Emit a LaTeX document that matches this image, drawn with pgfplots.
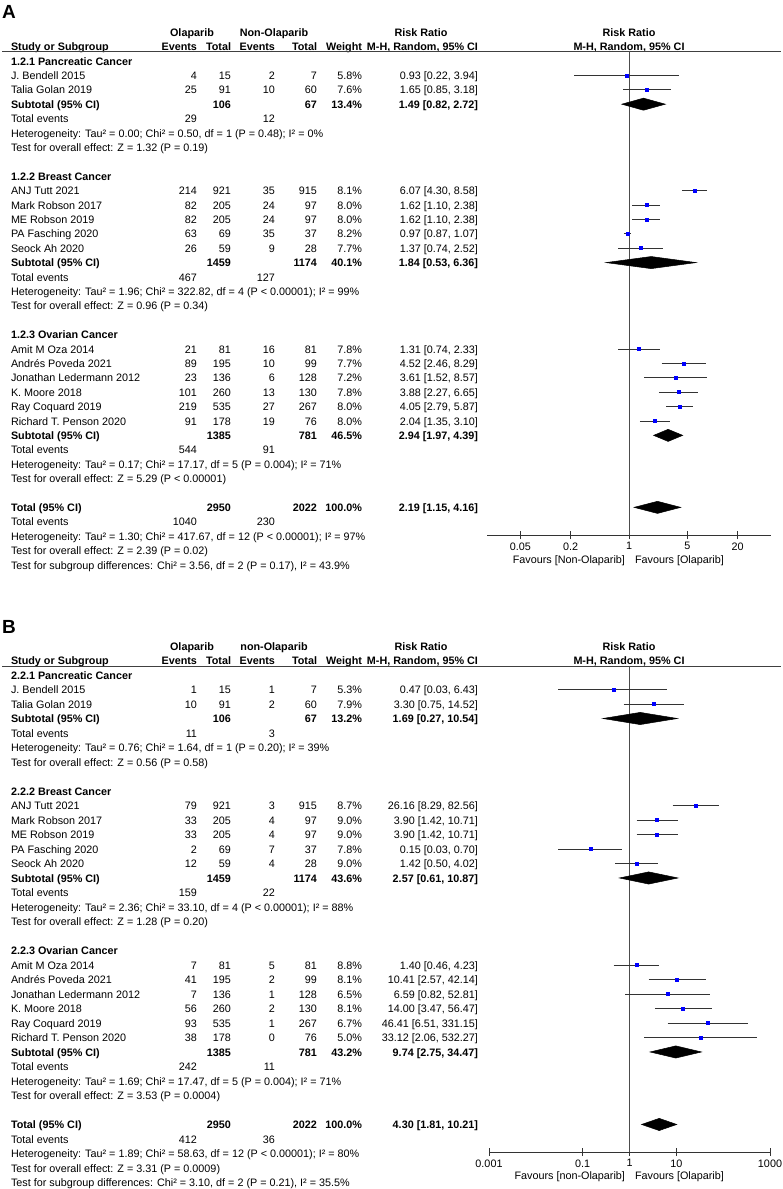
\documentclass[border=0pt]{standalone}
\usepackage{fontspec}
\setmainfont{Liberation Sans}
\usepackage{pgfplots}
\pgfplotsset{compat=1.18}
\newcommand\tf{\fontsize{10.8}{13}\selectfont}
\def\yz{61}\def\ys{14.4}
\newcommand\bl[1]{{-(\yz+\ys*(#1)+4)}}
\tikzset{t/.style={inner sep=0pt,outer sep=0pt},
 cil/.style={black!80, line width=0.8pt},
 vl/.style={black!70, line width=0.9pt},
 sq/.style={only marks, mark=square*, mark size=1.5pt, mark options={draw=blue, fill=blue}},
 dm/.style={fill=black, draw=black, line width=0.5pt}}
\newcommand\study[9][]{%
 \node[t,anchor=base west,#1] at (11,\bl{#2}) {#3};
 \node[t,anchor=base east,#1] at (197,\bl{#2}) {#4};
 \node[t,anchor=base east,#1] at (231,\bl{#2}) {#5};
 \node[t,anchor=base east,#1] at (275,\bl{#2}) {#6};
 \node[t,anchor=base east,#1] at (317,\bl{#2}) {#7};
 \node[t,anchor=base east,#1] at (362,\bl{#2}) {#8};
 \node[t,anchor=base east,#1] at (478,\bl{#2}) {#9};}
\newcommand\txt[3][]{\node[t,anchor=base west,#1] at (11,\bl{#2}) {#3};}
\newcommand\tev[3]{\node[t,anchor=base west] at (11,\bl{#1}) {Total events};
 \node[t,anchor=base east] at (197,\bl{#1}) {#2};
 \node[t,anchor=base east] at (275,\bl{#1}) {#3};}
\newcommand\header[1]{%
 \begin{scope}[font=\tf\bfseries]
 \node[t,anchor=base] at (192,\bl{-2}) {Olaparib};
 \node[t,anchor=base] at (274,\bl{-2}) {#1};
 \node[t,anchor=base] at (421,\bl{-2}) {Risk Ratio};
 \node[t,anchor=base] at (629,\bl{-2}) {Risk Ratio};
 \node[t,anchor=base west] at (11,\bl{-1}) {Study or Subgroup};
 \node[t,anchor=base east] at (197,\bl{-1}) {Events};
 \node[t,anchor=base east] at (231,\bl{-1}) {Total};
 \node[t,anchor=base east] at (275,\bl{-1}) {Events};
 \node[t,anchor=base east] at (317,\bl{-1}) {Total};
 \node[t,anchor=base east] at (362,\bl{-1}) {Weight};
 \node[t,anchor=base east] at (478,\bl{-1}) {M-H, Random, 95\% CI};
 \node[t,anchor=base] at (629,\bl{-1}) {M-H, Random, 95\% CI};
 \end{scope}}
\newcommand\ci[3]{\addplot[cil] coordinates {(#2,-#1) (#3,-#1)};}
\begin{document}
\begin{tikzpicture}[x=1pt,y=1pt,font=\tf]
\useasboundingbox (0,0) rectangle (782,-1189);
% ================= Panel A =================
\def\yz{61}\def\ys{14.4}
\node[t,anchor=base west,font=\fontsize{19}{20}\selectfont\bfseries] at (2,-18) {A};
\header{Non-Olaparib}
\draw[line width=1pt, black!75] (2,-51) -- (781,-51);
\txt[font=\tf\bfseries]{0}{1.2.1 Pancreatic Cancer}
\study{1}{J. Bendell 2015}{4}{15}{2}{7}{5.8\%}{0.93 [0.22, 3.94]}
\study{2}{Talia Golan 2019}{25}{91}{10}{60}{7.6\%}{1.65 [0.85, 3.18]}
\study[font=\tf\bfseries]{3}{Subtotal (95\% CI)}{}{106}{}{67}{13.4\%}{1.49 [0.82, 2.72]}
\tev{4}{29}{12}
\txt{5}{Heterogeneity: Tau² = 0.00; Chi² = 0.50, df = 1 (P = 0.48); I² = 0\%}
\txt{6}{Test for overall effect: Z = 1.32 (P = 0.19)}
\txt[font=\tf\bfseries]{8}{1.2.2 Breast Cancer}
\study{9}{ANJ Tutt 2021}{214}{921}{35}{915}{8.1\%}{6.07 [4.30, 8.58]}
\study{10}{Mark Robson 2017}{82}{205}{24}{97}{8.0\%}{1.62 [1.10, 2.38]}
\study{11}{ME Robson 2019}{82}{205}{24}{97}{8.0\%}{1.62 [1.10, 2.38]}
\study{12}{PA Fasching 2020}{63}{69}{35}{37}{8.2\%}{0.97 [0.87, 1.07]}
\study{13}{Seock Ah 2020}{26}{59}{9}{28}{7.7\%}{1.37 [0.74, 2.52]}
\study[font=\tf\bfseries]{14}{Subtotal (95\% CI)}{}{1459}{}{1174}{40.1\%}{1.84 [0.53, 6.36]}
\tev{15}{467}{127}
\txt{16}{Heterogeneity: Tau² = 1.96; Chi² = 322.82, df = 4 (P < 0.00001); I² = 99\%}
\txt{17}{Test for overall effect: Z = 0.96 (P = 0.34)}
\txt[font=\tf\bfseries]{19}{1.2.3 Ovarian Cancer}
\study{20}{Amit M Oza 2014}{21}{81}{16}{81}{7.8\%}{1.31 [0.74, 2.33]}
\study{21}{Andrés Poveda 2021}{89}{195}{10}{99}{7.7\%}{4.52 [2.46, 8.29]}
\study{22}{Jonathan Ledermann 2012}{23}{136}{6}{128}{7.2\%}{3.61 [1.52, 8.57]}
\study{23}{K. Moore 2018}{101}{260}{13}{130}{7.8\%}{3.88 [2.27, 6.65]}
\study{24}{Ray Coquard 2019}{219}{535}{27}{267}{8.0\%}{4.05 [2.79, 5.87]}
\study{25}{Richard T. Penson 2020}{91}{178}{19}{76}{8.0\%}{2.04 [1.35, 3.10]}
\study[font=\tf\bfseries]{26}{Subtotal (95\% CI)}{}{1385}{}{781}{46.5\%}{2.94 [1.97, 4.39]}
\tev{27}{544}{91}
\txt{28}{Heterogeneity: Tau² = 0.17; Chi² = 17.17, df = 5 (P = 0.004); I² = 71\%}
\txt{29}{Test for overall effect: Z = 5.29 (P < 0.00001)}
\study[font=\tf\bfseries]{31}{Total (95\% CI)}{}{2950}{}{2022}{100.0\%}{2.19 [1.15, 4.16]}
\tev{32}{1040}{230}
\txt{33}{Heterogeneity: Tau² = 1.30; Chi² = 417.67, df = 12 (P < 0.00001); I² = 97\%}
\txt{34}{Test for overall effect: Z = 2.39 (P = 0.02)}
\txt{35}{Test for subgroup differences: Chi² = 3.56, df = 2 (P = 0.17), I² = 43.9\%}
\node[t,anchor=base east] at (625,-563) {Favours [Non-Olaparib]};
\node[t,anchor=base west] at (635,-563) {Favours [Olaparib]};
\begin{axis}[at={(487pt,-51pt)}, anchor=north west, width=284pt, height=484pt,
  scale only axis, xmode=log, clip=false,
  axis x line*=bottom, axis y line=none, ytick=\empty,
  x axis line style={-, line width=0.9pt, color=black!80},
  xminorticks=false, tick align=center, major tick length=8pt,
  major tick style={black!80, line width=0.9pt},
  ticklabel style={font=\tf},
  xmin=0.02, xmax=50, ymin=-32.92, ymax=0.694,
  xtick={0.05,0.2,1,5,20}, xticklabels={0.05,0.2,1,5,20}]
\addplot[vl] coordinates {(1,0.694) (1,-32.92)};
\ci{1}{0.22}{3.94} \ci{2}{0.85}{3.18}
\ci{9}{4.30}{8.58} \ci{10}{1.10}{2.38} \ci{11}{1.10}{2.38} \ci{12}{0.87}{1.07} \ci{13}{0.74}{2.52}
\ci{20}{0.74}{2.33} \ci{21}{2.46}{8.29} \ci{22}{1.52}{8.57} \ci{23}{2.27}{6.65} \ci{24}{2.79}{5.87} \ci{25}{1.35}{3.10}
\addplot[sq] coordinates {(0.93,-1) (1.65,-2) (6.07,-9) (1.62,-10) (1.62,-11) (0.97,-12) (1.37,-13)
  (1.31,-20) (4.52,-21) (3.61,-22) (3.88,-23) (4.05,-24) (2.04,-25)};
\addplot[dm] coordinates {(0.82,-3) (1.49,-2.58) (2.72,-3) (1.49,-3.42)} --cycle;
\addplot[dm] coordinates {(0.53,-14) (1.84,-13.58) (6.36,-14) (1.84,-14.42)} --cycle;
\addplot[dm] coordinates {(1.97,-26) (2.94,-25.58) (4.39,-26) (2.94,-26.42)} --cycle;
\addplot[dm] coordinates {(1.15,-31) (2.19,-30.58) (4.16,-31) (2.19,-31.42)} --cycle;
\end{axis}
% ================= Panel B =================
\def\yz{675}\def\ys{14.5}
\node[t,anchor=base west,font=\fontsize{19}{20}\selectfont\bfseries] at (2,-633) {B};
\header{non-Olaparib}
\draw[line width=1pt, black!75] (2,-666) -- (781,-666);
\txt[font=\tf\bfseries]{0}{2.2.1 Pancreatic Cancer}
\study{1}{J. Bendell 2015}{1}{15}{1}{7}{5.3\%}{0.47 [0.03, 6.43]}
\study{2}{Talia Golan 2019}{10}{91}{2}{60}{7.9\%}{3.30 [0.75, 14.52]}
\study[font=\tf\bfseries]{3}{Subtotal (95\% CI)}{}{106}{}{67}{13.2\%}{1.69 [0.27, 10.54]}
\tev{4}{11}{3}
\txt{5}{Heterogeneity: Tau² = 0.76; Chi² = 1.64, df = 1 (P = 0.20); I² = 39\%}
\txt{6}{Test for overall effect: Z = 0.56 (P = 0.58)}
\txt[font=\tf\bfseries]{8}{2.2.2 Breast Cancer}
\study{9}{ANJ Tutt 2021}{79}{921}{3}{915}{8.7\%}{26.16 [8.29, 82.56]}
\study{10}{Mark Robson 2017}{33}{205}{4}{97}{9.0\%}{3.90 [1.42, 10.71]}
\study{11}{ME Robson 2019}{33}{205}{4}{97}{9.0\%}{3.90 [1.42, 10.71]}
\study{12}{PA Fasching 2020}{2}{69}{7}{37}{7.8\%}{0.15 [0.03, 0.70]}
\study{13}{Seock Ah 2020}{12}{59}{4}{28}{9.0\%}{1.42 [0.50, 4.02]}
\study[font=\tf\bfseries]{14}{Subtotal (95\% CI)}{}{1459}{}{1174}{43.6\%}{2.57 [0.61, 10.87]}
\tev{15}{159}{22}
\txt{16}{Heterogeneity: Tau² = 2.36; Chi² = 33.10, df = 4 (P < 0.00001); I² = 88\%}
\txt{17}{Test for overall effect: Z = 1.28 (P = 0.20)}
\txt[font=\tf\bfseries]{19}{2.2.3 Ovarian Cancer}
\study{20}{Amit M Oza 2014}{7}{81}{5}{81}{8.8\%}{1.40 [0.46, 4.23]}
\study{21}{Andrés Poveda 2021}{41}{195}{2}{99}{8.1\%}{10.41 [2.57, 42.14]}
\study{22}{Jonathan Ledermann 2012}{7}{136}{1}{128}{6.5\%}{6.59 [0.82, 52.81]}
\study{23}{K. Moore 2018}{56}{260}{2}{130}{8.1\%}{14.00 [3.47, 56.47]}
\study{24}{Ray Coquard 2019}{93}{535}{1}{267}{6.7\%}{46.41 [6.51, 331.15]}
\study{25}{Richard T. Penson 2020}{38}{178}{0}{76}{5.0\%}{33.12 [2.06, 532.27]}
\study[font=\tf\bfseries]{26}{Subtotal (95\% CI)}{}{1385}{}{781}{43.2\%}{9.74 [2.75, 34.47]}
\tev{27}{242}{11}
\txt{28}{Heterogeneity: Tau² = 1.69; Chi² = 17.47, df = 5 (P = 0.004); I² = 71\%}
\txt{29}{Test for overall effect: Z = 3.53 (P = 0.0004)}
\study[font=\tf\bfseries]{31}{Total (95\% CI)}{}{2950}{}{2022}{100.0\%}{4.30 [1.81, 10.21]}
\tev{32}{412}{36}
\txt{33}{Heterogeneity: Tau² = 1.89; Chi² = 58.63, df = 12 (P < 0.00001); I² = 80\%}
\txt{34}{Test for overall effect: Z = 3.31 (P = 0.0009)}
\txt{35}{Test for subgroup differences: Chi² = 3.10, df = 2 (P = 0.21), I² = 35.5\%}
\node[t,anchor=base east] at (625,-1179) {Favours [non-Olaparib]};
\node[t,anchor=base west] at (635,-1179) {Favours [Olaparib]};
\begin{axis}[at={(489pt,-666pt)}, anchor=north west, width=281pt, height=486pt,
  scale only axis, xmode=log, clip=false,
  axis x line*=bottom, axis y line=none, ytick=\empty,
  x axis line style={-, line width=0.9pt, color=black!80},
  xminorticks=false, tick align=center, major tick length=8pt,
  major tick style={black!80, line width=0.9pt},
  ticklabel style={font=\tf},
  xmin=0.001, xmax=1000, ymin=-32.9, ymax=0.62,
  xtick={0.001,0.1,1,10,1000}, xticklabels={0.001,0.1,1,10,1000}]
\addplot[vl] coordinates {(1,0.62) (1,-32.9)};
\ci{1}{0.03}{6.43} \ci{2}{0.75}{14.52}
\ci{9}{8.29}{82.56} \ci{10}{1.42}{10.71} \ci{11}{1.42}{10.71} \ci{12}{0.03}{0.70} \ci{13}{0.50}{4.02}
\ci{20}{0.46}{4.23} \ci{21}{2.57}{42.14} \ci{22}{0.82}{52.81} \ci{23}{3.47}{56.47} \ci{24}{6.51}{331.15} \ci{25}{2.06}{532.27}
\addplot[sq] coordinates {(0.47,-1) (3.30,-2) (26.16,-9) (3.90,-10) (3.90,-11) (0.15,-12) (1.42,-13)
  (1.40,-20) (10.41,-21) (6.59,-22) (14.00,-23) (46.41,-24) (33.12,-25)};
\addplot[dm] coordinates {(0.27,-3) (1.69,-2.58) (10.54,-3) (1.69,-3.42)} --cycle;
\addplot[dm] coordinates {(0.61,-14) (2.57,-13.58) (10.87,-14) (2.57,-14.42)} --cycle;
\addplot[dm] coordinates {(2.75,-26) (9.74,-25.58) (34.47,-26) (9.74,-26.42)} --cycle;
\addplot[dm] coordinates {(1.81,-31) (4.30,-30.58) (10.21,-31) (4.30,-31.42)} --cycle;
\end{axis}
\end{tikzpicture}
\end{document}
